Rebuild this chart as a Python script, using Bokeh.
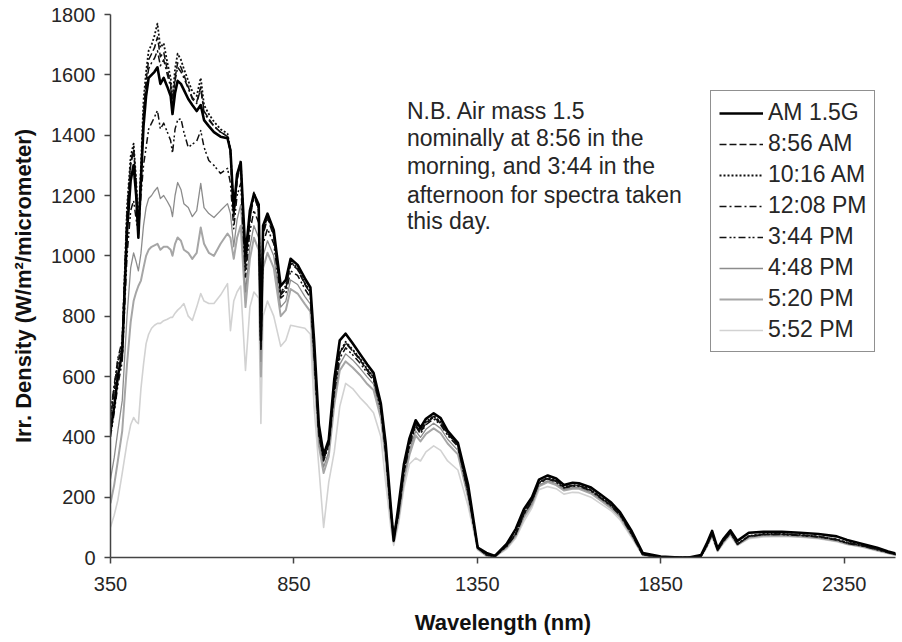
from bokeh.plotting import figure
from bokeh.models import Range1d, FixedTicker, Legend, LegendItem, Label
from bokeh.embed import file_html
from bokeh.resources import INLINE

# ---------------- data ----------------
wavelength = [350, 360, 370, 382, 395, 405, 413, 420, 426, 433,
              440, 447, 454, 462, 470, 478, 486, 495, 505, 514,
              519, 526, 533, 542, 550, 562, 573, 585, 596, 605,
              618, 632, 650, 669, 677, 686, 695, 705, 718, 730,
              741, 754, 760, 766, 778, 795, 814, 828, 841, 860,
              880, 895, 905, 918, 931, 945, 960, 975, 991, 1010,
              1030, 1050, 1067, 1087, 1100, 1114, 1122, 1135, 1150, 1165,
              1182, 1195, 1210, 1231, 1250, 1269, 1297, 1325, 1351, 1375,
              1398, 1430, 1455, 1477, 1499, 1518, 1542, 1565, 1586, 1610,
              1627, 1660, 1687, 1715, 1739, 1771, 1801, 1850, 1900, 1927,
              1960, 1975, 1990, 2005, 2020, 2040, 2059, 2090, 2130, 2180,
              2230, 2280, 2330, 2358, 2400, 2440, 2470, 2495]

am15g = [420, 500, 600, 680, 1080, 1250, 1300, 1200, 1060, 1250,
         1430, 1530, 1590, 1600, 1610, 1625, 1570, 1590, 1560, 1530,
         1470, 1540, 1580, 1570, 1550, 1520, 1500, 1480, 1500, 1450,
         1430, 1410, 1395, 1390, 1350, 1150, 1270, 1310, 1000, 1150,
         1205, 1170, 720, 1100, 1140, 1085, 900, 920, 990, 970,
         925, 895, 720, 440, 340, 390, 590, 720, 742, 710,
         675, 640, 612, 510, 380, 170, 56, 170, 310, 395,
         455, 430, 460, 478, 462, 420, 380, 240, 33, 15,
         5, 45, 95, 160, 200, 258, 272, 262, 240, 248,
         246, 232, 208, 182, 150, 87, 15, 3, 0, 0,
         8, 45, 88, 30, 60, 90, 55, 82, 85, 85,
         82, 78, 70, 58, 45, 32, 20, 12]

t_0856 = [460, 550, 640, 700, 1130, 1300, 1350, 1230, 1070, 1270,
          1480, 1580, 1650, 1670, 1690, 1725, 1660, 1675, 1615, 1570,
          1500, 1590, 1640, 1625, 1600, 1560, 1525, 1510, 1560, 1480,
          1455, 1430, 1410, 1395, 1340, 1135, 1250, 1305, 955, 1120,
          1200, 1150, 690, 1070, 1125, 1065, 870, 890, 975, 955,
          905, 875, 680, 410, 325, 375, 555, 675, 710, 685,
          655, 620, 595, 495, 355, 155, 65, 145, 285, 375,
          440, 415, 445, 465, 445, 410, 372, 215, 33, 8,
          4, 38, 78, 145, 188, 248, 262, 252, 232, 238,
          238, 222, 198, 172, 142, 78, 9, 2, 0, 0,
          5, 38, 78, 24, 52, 83, 44, 70, 76, 77,
          74, 69, 59, 48, 39, 27, 17, 9]

t_1016 = [470, 560, 650, 710, 1160, 1330, 1372, 1250, 1090, 1300,
          1515, 1610, 1680, 1700, 1730, 1770, 1690, 1705, 1640, 1590,
          1520, 1620, 1670, 1650, 1620, 1580, 1545, 1530, 1590, 1500,
          1470, 1445, 1420, 1405, 1350, 1140, 1260, 1316, 960, 1130,
          1210, 1160, 700, 1080, 1134, 1075, 880, 900, 980, 960,
          910, 880, 690, 420, 330, 380, 560, 680, 715, 690,
          660, 625, 600, 500, 360, 160, 70, 150, 290, 380,
          445, 420, 450, 470, 450, 415, 375, 220, 35, 10,
          5, 40, 80, 150, 190, 250, 265, 255, 235, 240,
          240, 225, 200, 175, 145, 80, 10, 2, 0, 0,
          5, 40, 80, 25, 55, 85, 45, 72, 78, 78,
          75, 70, 60, 50, 40, 28, 18, 10]

t_1208 = [480, 570, 660, 720, 1150, 1310, 1360, 1240, 1080, 1280,
          1460, 1560, 1620, 1640, 1655, 1680, 1630, 1650, 1600, 1560,
          1495, 1580, 1625, 1610, 1590, 1555, 1520, 1505, 1555, 1475,
          1450, 1430, 1410, 1398, 1345, 1130, 1255, 1310, 965, 1125,
          1205, 1155, 710, 1075, 1130, 1070, 875, 895, 978, 958,
          908, 878, 685, 415, 328, 378, 558, 678, 712, 688,
          658, 622, 598, 498, 358, 158, 68, 148, 288, 378,
          443, 418, 448, 468, 448, 413, 374, 218, 34, 9,
          5, 39, 79, 148, 189, 249, 264, 254, 234, 239,
          239, 224, 199, 174, 144, 79, 10, 2, 0, 0,
          5, 39, 79, 25, 54, 84, 45, 71, 77, 78,
          75, 70, 60, 49, 40, 28, 18, 10]

t_1544 = [400, 480, 570, 650, 1000, 1150, 1183, 1120, 1074, 1200,
          1300, 1359, 1420, 1440, 1460, 1482, 1420, 1440, 1410, 1382,
          1340, 1420, 1450, 1455, 1410, 1359, 1370, 1380, 1415, 1360,
          1316, 1300, 1273, 1290, 1240, 1090, 1200, 1240, 930, 1080,
          1150, 1110, 690, 1040, 1090, 1040, 860, 875, 950, 935,
          890, 860, 675, 405, 320, 370, 545, 660, 695, 672,
          645, 612, 588, 490, 350, 150, 62, 142, 280, 370,
          435, 410, 440, 460, 440, 405, 368, 212, 32, 8,
          4, 37, 77, 143, 186, 246, 260, 250, 230, 236,
          236, 220, 196, 170, 140, 76, 9, 2, 0, 0,
          5, 37, 77, 24, 52, 82, 44, 70, 76, 76,
          73, 68, 58, 47, 38, 26, 16, 8]

t_1648 = [260, 330, 420, 520, 800, 960, 1010, 980, 950, 1008,
          1100, 1160, 1190, 1200, 1215, 1227, 1190, 1200, 1180, 1160,
          1130, 1200, 1243, 1220, 1173, 1160, 1130, 1150, 1240, 1160,
          1140, 1127, 1150, 1173, 1140, 1030, 1120, 1170, 880, 1030,
          1100, 1060, 650, 1000, 1050, 1000, 830, 850, 920, 905,
          865, 840, 650, 390, 300, 350, 525, 640, 675, 655,
          628, 598, 575, 478, 340, 140, 58, 135, 268, 355,
          420, 398, 425, 445, 428, 392, 355, 205, 30, 7,
          3, 35, 74, 138, 180, 240, 254, 245, 226, 232,
          232, 216, 192, 167, 137, 74, 8, 2, 0, 0,
          4, 36, 75, 23, 50, 80, 43, 68, 74, 74,
          71, 66, 56, 46, 37, 25, 15, 8]

t_1720 = [180, 240, 320, 420, 640, 780, 850, 880, 900, 918,
          960, 1000, 1020, 1030, 1035, 1040, 1020, 1030, 1030, 1020,
          1000, 1040, 1061, 1050, 1020, 1010, 990, 1010, 1094, 1040,
          1010, 1000, 1040, 1074, 1060, 990, 1060, 1100, 830, 990,
          1060, 1020, 600, 960, 1010, 960, 800, 820, 890, 875,
          840, 815, 620, 370, 280, 335, 505, 620, 650, 630,
          605, 575, 555, 462, 325, 130, 52, 128, 255, 340,
          405, 385, 410, 428, 412, 378, 342, 198, 28, 6,
          3, 33, 72, 133, 175, 236, 250, 240, 222, 228,
          228, 212, 188, 163, 134, 72, 8, 2, 0, 0,
          4, 35, 73, 22, 49, 78, 42, 66, 72, 73,
          70, 65, 55, 45, 36, 24, 15, 7]

t_1752 = [100, 140, 190, 280, 380, 440, 464, 450, 444, 560,
          640, 709, 740, 760, 770, 776, 776, 785, 790, 796,
          796, 810, 820, 830, 842, 800, 786, 830, 875, 850,
          842, 842, 870, 908, 752, 850, 880, 900, 620, 830,
          880, 860, 444, 800, 850, 800, 700, 720, 770, 765,
          760, 740, 500, 300, 100, 250, 350, 500, 577, 560,
          530, 505, 480, 400, 250, 100, 40, 110, 230, 310,
          330, 320, 350, 370, 355, 320, 290, 170, 25, 5,
          2, 28, 65, 120, 165, 225, 235, 228, 210, 216,
          215, 200, 178, 155, 125, 65, 7, 1, 0, 0,
          3, 32, 68, 20, 45, 72, 40, 62, 68, 70,
          67, 62, 52, 43, 34, 22, 13, 6]

series_names = ["AM 1.5G", "8:56 AM", "10:16 AM", "12:08 PM",
                "3:44 PM", "4:48 PM", "5:20 PM", "5:52 PM"]
series_values = [am15g, t_0856, t_1016, t_1208, t_1544, t_1648, t_1720, t_1752]

x_ticks = [350, 850, 1350, 1850, 2350]
y_ticks = [0, 200, 400, 600, 800, 1000, 1200, 1400, 1600, 1800]

note_lines = ["N.B. Air mass 1.5",
              "nominally at 8:56 in the",
              "morning, and 3:44 in the",
              "afternoon for spectra taken",
              "this day."]

for s in series_values:
    assert len(s) == len(wavelength), len(s)

# ---------------- styles ----------------
styles = [
    dict(color="#000000", width=2.6, dash="solid"),
    dict(color="#111111", width=1.5, dash="7 3"),
    dict(color="#111111", width=1.8, dash="2 2"),
    dict(color="#111111", width=1.5, dash="7 3 2 3"),
    dict(color="#111111", width=1.5, dash="7 3 2 2 2 3"),
    dict(color="#8c8c8c", width=1.3, dash="solid"),
    dict(color="#a6a6a6", width=2.0, dash="solid"),
    dict(color="#d2d2d2", width=1.6, dash="solid"),
]

FONT = "Liberation Sans"
TXT = "#262626"

p = figure(width=902, height=642, output_backend="svg", toolbar_location=None,
           x_range=Range1d(350, 2490), y_range=Range1d(0, 1800),
           min_border_left=110, min_border_right=7,
           min_border_top=14, min_border_bottom=85)
p.title.visible = False
p.outline_line_color = None
p.background_fill_color = "white"
p.border_fill_color = "white"

p.xgrid.visible = False
p.ygrid.ticker = FixedTicker(ticks=[1800])
p.ygrid.grid_line_color = "#444444"
p.ygrid.grid_line_width = 1.5

for ax in (p.xaxis[0], p.yaxis[0]):
    ax.axis_line_color = "#444444"
    ax.axis_line_width = 1.5
    ax.major_tick_line_color = "#444444"
    ax.major_tick_line_width = 1.5
    ax.major_tick_in = 0
    ax.major_tick_out = 6
    ax.minor_tick_line_color = None
    ax.major_label_text_font = FONT
    ax.major_label_text_font_size = "20px"
    ax.major_label_text_color = TXT
    ax.axis_label_text_font = FONT
    ax.axis_label_text_font_size = "22px"
    ax.axis_label_text_font_style = "bold"
    ax.axis_label_text_color = "#111111"

p.xaxis.ticker = FixedTicker(ticks=x_ticks)
p.yaxis.ticker = FixedTicker(ticks=y_ticks)
p.xaxis.axis_label = "Wavelength (nm)"
p.yaxis.axis_label = "Irr. Density (W/m²/micrometer)"
p.xaxis.major_label_standoff = 13
p.xaxis.axis_label_standoff = 16
p.yaxis.major_label_standoff = 9
p.yaxis.axis_label_standoff = 12

renderers = {}
for name, vals, st in reversed(list(zip(series_names, series_values, styles))):
    r = p.line(wavelength, vals, line_color=st["color"], line_width=st["width"],
               line_dash=st["dash"], line_join="round")
    renderers[name] = r

items = [LegendItem(label=n, renderers=[renderers[n]]) for n in series_names]
legend = Legend(items=items, location=(600, 205), orientation="vertical")
legend.label_text_font = FONT
legend.label_text_font_size = "23px"
legend.label_text_color = TXT
legend.glyph_width = 44
legend.glyph_height = 26
legend.label_height = 26
legend.label_standoff = 5
legend.spacing = 4
legend.padding = 8
legend.margin = 0
legend.border_line_color = "#222222"
legend.border_line_width = 1.5
legend.background_fill_color = "white"
legend.background_fill_alpha = 1.0
p.add_layout(legend, "center")

note_x = 1158
note_y = [1479, 1391, 1297, 1203, 1115]
for txt, yy in zip(note_lines, note_y):
    p.add_layout(Label(x=note_x, y=yy, text=txt, text_font=FONT,
                       text_font_size="23px", text_color=TXT,
                       text_baseline="alphabetic", text_align="left"))

open("out.html", "w").write(file_html(p, INLINE))
